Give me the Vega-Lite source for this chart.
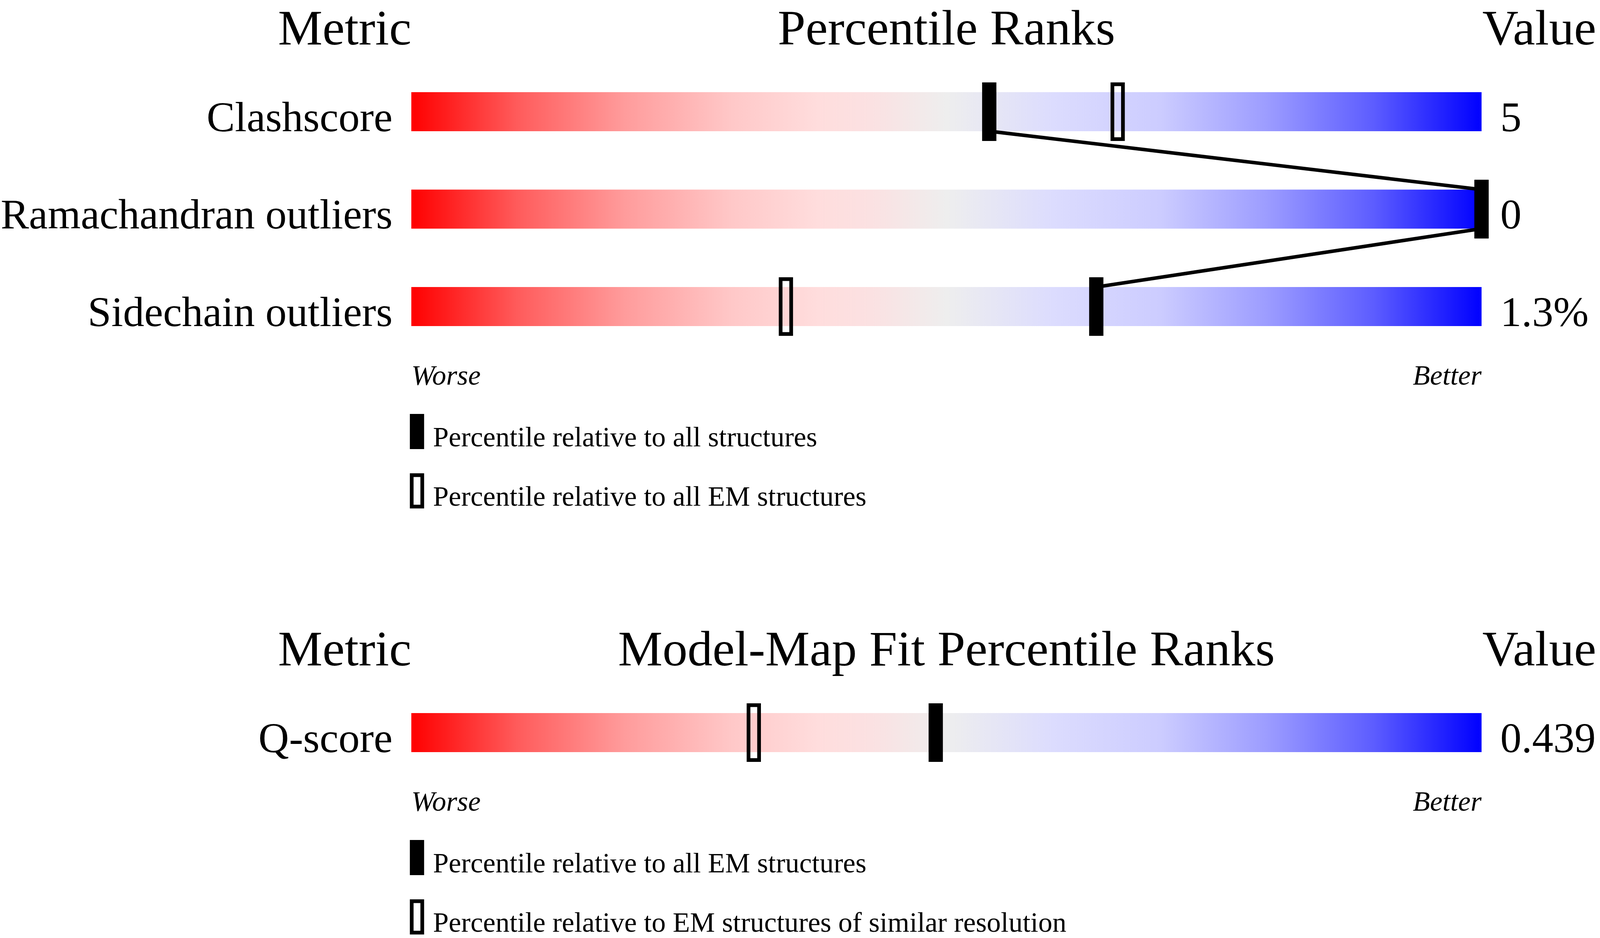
{
  "$schema": "https://vega.github.io/schema/vega-lite/v6.json",
  "autosize": {"type": "fit", "contains": "padding"},
  "width": "container",
  "height": 2402,
  "padding": 0,
  "background": "white",
  "view": {"stroke": null},
  "datasets": {
    "metrics": [
      {"section": "geometry", "metric": "Clashscore", "row": 1, "value": "5", "pct_all": 54, "pct_subset": 66},
      {"section": "geometry", "metric": "Ramachandran outliers", "row": 2, "value": "0", "pct_all": 100, "pct_subset": 100},
      {"section": "geometry", "metric": "Sidechain outliers", "row": 3, "value": "1.3%", "pct_all": 64, "pct_subset": 35},
      {"section": "fit", "metric": "Q-score", "row": 7.373, "value": "0.439", "pct_all": 49, "pct_subset": 32}
    ],
    "sections": [
      {"section": "geometry", "title": "Percentile Ranks", "first_row": 1, "last_row": 3,
       "legend_solid": "Percentile relative to all structures",
       "legend_open": "Percentile relative to all EM structures"},
      {"section": "fit", "title": "Model-Map Fit Percentile Ranks", "first_row": 7.373, "last_row": 7.373,
       "legend_solid": "Percentile relative to all EM structures",
       "legend_open": "Percentile relative to EM structures of similar resolution"}
    ]
  },
  "layer": [
    {
      "data": {"name": "metrics"},
      "mark": {
        "type": "rect",
        "yOffset": -50,
        "y2Offset": 50,
        "fill": {
          "gradient": "linear", "x1": 0, "y1": 0, "x2": 1, "y2": 0,
          "stops": [
            {"offset": 0, "color": "#ff0000"},
            {"offset": 0.1, "color": "#ff5c5c"},
            {"offset": 0.2, "color": "#ff9c9c"},
            {"offset": 0.3, "color": "#ffc8c8"},
            {"offset": 0.38, "color": "#ffdddd"},
            {"offset": 0.43, "color": "#fbe1e2"},
            {"offset": 0.5, "color": "#eeeeee"},
            {"offset": 0.6, "color": "#dcdcfe"},
            {"offset": 0.7, "color": "#ccccff"},
            {"offset": 0.8, "color": "#9c9cff"},
            {"offset": 0.9, "color": "#5c5cff"},
            {"offset": 1, "color": "#0000ff"}
          ]
        }
      },
      "encoding": {
        "x": {"datum": 0, "type": "quantitative", "axis": null, "scale": {"domain": [-38.433, 111.067], "nice": false, "zero": false}},
        "x2": {"datum": 100},
        "y": {"field": "row", "type": "quantitative", "axis": null, "scale": {"domain": [-0.1463, 9.481], "reverse": true, "nice": false, "zero": false}},
        "y2": {"field": "row"}
      }
    },
    {
      "data": {"name": "metrics"},
      "transform": [
        {"window": [
          {"op": "lead", "field": "pct_all", "as": "next_pct"},
          {"op": "lead", "field": "row", "as": "next_row"}
        ], "groupby": ["section"], "sort": [{"field": "row"}]},
        {"filter": "datum.next_pct != null"}
      ],
      "mark": {"type": "rule", "color": "black", "opacity": 1, "strokeWidth": 9, "yOffset": 50, "y2Offset": -50},
      "encoding": {
        "x": {"field": "pct_all", "type": "quantitative", "axis": null, "scale": {"domain": [-38.433, 111.067], "nice": false, "zero": false}},
        "x2": {"field": "next_pct"},
        "y": {"field": "row", "type": "quantitative", "axis": null, "scale": {"domain": [-0.1463, 9.481], "reverse": true, "nice": false, "zero": false}},
        "y2": {"field": "next_row"}
      }
    },
    {
      "data": {"name": "metrics"},
      "mark": {"type": "tick", "orient": "vertical", "filled": false, "color": "black", "opacity": 1, "strokeWidth": 9.5, "thickness": 27, "size": 140.5},
      "encoding": {
        "x": {"field": "pct_subset", "type": "quantitative", "axis": null, "scale": {"domain": [-38.433, 111.067], "nice": false, "zero": false}},
        "y": {"field": "row", "type": "quantitative", "axis": null, "scale": {"domain": [-0.1463, 9.481], "reverse": true, "nice": false, "zero": false}}
      }
    },
    {
      "data": {"name": "metrics"},
      "mark": {"type": "tick", "orient": "vertical", "color": "black", "opacity": 1, "thickness": 36.5, "size": 150},
      "encoding": {
        "x": {"field": "pct_all", "type": "quantitative", "axis": null, "scale": {"domain": [-38.433, 111.067], "nice": false, "zero": false}},
        "y": {"field": "row", "type": "quantitative", "axis": null, "scale": {"domain": [-0.1463, 9.481], "reverse": true, "nice": false, "zero": false}}
      }
    },
    {
      "data": {"name": "metrics"},
      "mark": {"type": "text", "font": "Liberation Serif", "fontSize": 108.5, "align": "right", "baseline": "alphabetic", "dx": -48, "dy": 50, "color": "black"},
      "encoding": {
        "x": {"datum": 0, "type": "quantitative", "axis": null, "scale": {"domain": [-38.433, 111.067], "nice": false, "zero": false}},
        "y": {"field": "row", "type": "quantitative", "axis": null, "scale": {"domain": [-0.1463, 9.481], "reverse": true, "nice": false, "zero": false}},
        "text": {"field": "metric"}
      }
    },
    {
      "data": {"name": "metrics"},
      "mark": {"type": "text", "font": "Liberation Serif", "fontSize": 108.5, "align": "left", "baseline": "alphabetic", "dx": 48, "dy": 50, "color": "black"},
      "encoding": {
        "x": {"datum": 100, "type": "quantitative", "axis": null, "scale": {"domain": [-38.433, 111.067], "nice": false, "zero": false}},
        "y": {"field": "row", "type": "quantitative", "axis": null, "scale": {"domain": [-0.1463, 9.481], "reverse": true, "nice": false, "zero": false}},
        "text": {"field": "value"}
      }
    },
    {
      "data": {"name": "sections"},
      "mark": {"type": "text", "text": "Metric", "font": "Liberation Serif", "fontSize": 128, "align": "right", "baseline": "alphabetic", "dy": -172, "color": "black"},
      "encoding": {
        "x": {"datum": 0, "type": "quantitative", "axis": null, "scale": {"domain": [-38.433, 111.067], "nice": false, "zero": false}},
        "y": {"field": "first_row", "type": "quantitative", "axis": null, "scale": {"domain": [-0.1463, 9.481], "reverse": true, "nice": false, "zero": false}}
      }
    },
    {
      "data": {"name": "sections"},
      "mark": {"type": "text", "font": "Liberation Serif", "fontSize": 128, "align": "center", "baseline": "alphabetic", "dy": -172, "color": "black"},
      "encoding": {
        "x": {"datum": 50, "type": "quantitative", "axis": null, "scale": {"domain": [-38.433, 111.067], "nice": false, "zero": false}},
        "y": {"field": "first_row", "type": "quantitative", "axis": null, "scale": {"domain": [-0.1463, 9.481], "reverse": true, "nice": false, "zero": false}},
        "text": {"field": "title"}
      }
    },
    {
      "data": {"name": "sections"},
      "mark": {"type": "text", "text": "Value", "font": "Liberation Serif", "fontSize": 128, "align": "left", "baseline": "alphabetic", "dx": 2, "dy": -172, "color": "black"},
      "encoding": {
        "x": {"datum": 100, "type": "quantitative", "axis": null, "scale": {"domain": [-38.433, 111.067], "nice": false, "zero": false}},
        "y": {"field": "first_row", "type": "quantitative", "axis": null, "scale": {"domain": [-0.1463, 9.481], "reverse": true, "nice": false, "zero": false}}
      }
    },
    {
      "data": {"name": "sections"},
      "mark": {"type": "text", "text": "Worse", "font": "Liberation Serif", "fontStyle": "italic", "fontSize": 72, "align": "left", "baseline": "alphabetic", "dy": 200, "color": "black"},
      "encoding": {
        "x": {"datum": 0, "type": "quantitative", "axis": null, "scale": {"domain": [-38.433, 111.067], "nice": false, "zero": false}},
        "y": {"field": "last_row", "type": "quantitative", "axis": null, "scale": {"domain": [-0.1463, 9.481], "reverse": true, "nice": false, "zero": false}}
      }
    },
    {
      "data": {"name": "sections"},
      "mark": {"type": "text", "text": "Better", "font": "Liberation Serif", "fontStyle": "italic", "fontSize": 72, "align": "right", "baseline": "alphabetic", "dy": 200, "color": "black"},
      "encoding": {
        "x": {"datum": 100, "type": "quantitative", "axis": null, "scale": {"domain": [-38.433, 111.067], "nice": false, "zero": false}},
        "y": {"field": "last_row", "type": "quantitative", "axis": null, "scale": {"domain": [-0.1463, 9.481], "reverse": true, "nice": false, "zero": false}}
      }
    },
    {
      "data": {"name": "sections"},
      "mark": {"type": "tick", "orient": "vertical", "color": "black", "opacity": 1, "thickness": 36.5, "size": 90, "xOffset": 14.5, "yOffset": 320},
      "encoding": {
        "x": {"datum": 0, "type": "quantitative", "axis": null, "scale": {"domain": [-38.433, 111.067], "nice": false, "zero": false}},
        "y": {"field": "last_row", "type": "quantitative", "axis": null, "scale": {"domain": [-0.1463, 9.481], "reverse": true, "nice": false, "zero": false}}
      }
    },
    {
      "data": {"name": "sections"},
      "mark": {"type": "tick", "orient": "vertical", "filled": false, "color": "black", "opacity": 1, "strokeWidth": 9.5, "thickness": 27, "size": 80.5, "xOffset": 14.5, "yOffset": 472},
      "encoding": {
        "x": {"datum": 0, "type": "quantitative", "axis": null, "scale": {"domain": [-38.433, 111.067], "nice": false, "zero": false}},
        "y": {"field": "last_row", "type": "quantitative", "axis": null, "scale": {"domain": [-0.1463, 9.481], "reverse": true, "nice": false, "zero": false}}
      }
    },
    {
      "data": {"name": "sections"},
      "mark": {"type": "text", "font": "Liberation Serif", "fontSize": 72, "align": "left", "baseline": "alphabetic", "dx": 55.5, "dy": 358, "color": "black"},
      "encoding": {
        "x": {"datum": 0, "type": "quantitative", "axis": null, "scale": {"domain": [-38.433, 111.067], "nice": false, "zero": false}},
        "y": {"field": "last_row", "type": "quantitative", "axis": null, "scale": {"domain": [-0.1463, 9.481], "reverse": true, "nice": false, "zero": false}},
        "text": {"field": "legend_solid"}
      }
    },
    {
      "data": {"name": "sections"},
      "mark": {"type": "text", "font": "Liberation Serif", "fontSize": 72, "align": "left", "baseline": "alphabetic", "dx": 55.5, "dy": 510, "color": "black"},
      "encoding": {
        "x": {"datum": 0, "type": "quantitative", "axis": null, "scale": {"domain": [-38.433, 111.067], "nice": false, "zero": false}},
        "y": {"field": "last_row", "type": "quantitative", "axis": null, "scale": {"domain": [-0.1463, 9.481], "reverse": true, "nice": false, "zero": false}},
        "text": {"field": "legend_open"}
      }
    }
  ]
}
